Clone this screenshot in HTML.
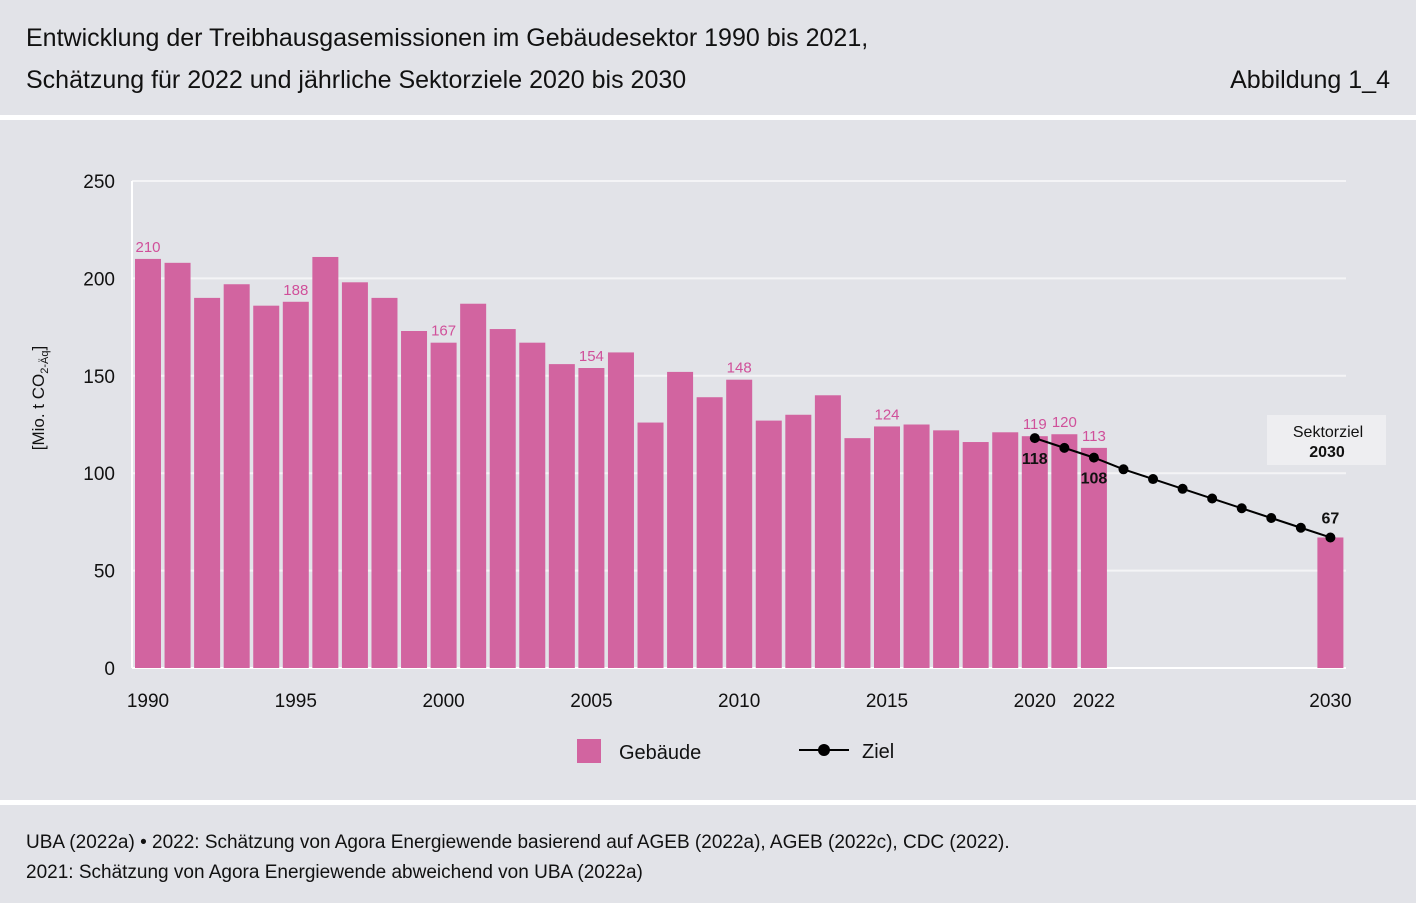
<!DOCTYPE html>
<html><head><meta charset="utf-8">
<style>
body{margin:0;width:1416px;height:903px;background:#e2e3e8;font-family:"Liberation Sans",sans-serif;overflow:hidden;position:relative}
.t{position:absolute;color:#111;font-size:25px}
</style></head><body>
<div class="t" style="left:26px;top:24px">Entwicklung der Treibhausgasemissionen im Gebäudesektor 1990 bis 2021,</div>
<div class="t" style="left:26px;top:66px">Schätzung für 2022 und jährliche Sektorziele 2020 bis 2030</div>
<div class="t" style="right:26px;top:66px">Abbildung 1_4</div>
<div style="position:absolute;left:0;top:115px;width:1416px;height:5px;background:#fff"></div>
<div style="position:absolute;left:0;top:800px;width:1416px;height:5px;background:#fff"></div>
<div class="t" style="left:26px;top:828px;font-size:19px;line-height:30px">UBA (2022a) • 2022: Schätzung von Agora Energiewende basierend auf AGEB (2022a), AGEB (2022c), CDC (2022).<br>2021: Schätzung von Agora Energiewende abweichend von UBA (2022a)</div>
<svg id="chart" width="1416" height="903" style="position:absolute;left:0;top:0">
<g id="g"></g>
</svg>
<script>
const years=[1990,1991,1992,1993,1994,1995,1996,1997,1998,1999,2000,2001,2002,2003,2004,2005,2006,2007,2008,2009,2010,2011,2012,2013,2014,2015,2016,2017,2018,2019,2020,2021,2022,2030];
const values=[210,208,190,197,186,188,211,198,190,173,167,187,174,167,156,154,162,126,152,139,148,127,130,140,118,124,125,122,116,121,119,120,113,67];
const labeledYears=[1990,1995,2000,2005,2010,2015,2020,2021,2022];
const zielYears=[2020,2021,2022,2023,2024,2025,2026,2027,2028,2029,2030];
const zielValues=[118,113,108,102,97,92,87,82,77,72,67];
const yTicks=[0,50,100,150,200,250];
const xTicks=[1990,1995,2000,2005,2010,2015,2020,2022,2030];
const NS="http://www.w3.org/2000/svg";
const g=document.getElementById('g');
const X=y=>148+(y-1990)*29.56;
const Y=v=>668-v*1.948;
function mk(t,a,txt){const e=document.createElementNS(NS,t);for(const k in a)e.setAttribute(k,a[k]);if(txt!==undefined)e.textContent=txt;g.appendChild(e);return e;}
yTicks.forEach(v=>{
 if(v>0){const l=mk('line',{x1:132,x2:1346,y1:Y(v),y2:Y(v),stroke:'#f4f4f6','stroke-width':2});
 
 }
 const t=mk('text',{x:115,y:Y(v)+7,'text-anchor':'end','font-size':19,fill:'#111'},v);
 
 
});
const ax=mk('line',{x1:132,x2:132,y1:181,y2:668,stroke:'#fff','stroke-width':2});


const bx=mk('line',{x1:132,x2:1346,y1:668,y2:668,stroke:'#fff','stroke-width':2});


years.forEach((yr,i)=>{
 const b=mk('rect',{x:X(yr)-13,y:Y(values[i]),width:26,height:668-Y(values[i]),fill:'#d264a0'});
 
 
 if(labeledYears.includes(yr)){
  const t=mk('text',{x:X(yr),y:Y(values[i])-7,'text-anchor':'middle','font-size':15,fill:'#d0509a'},values[i]);
  
  
 }
});
xTicks.forEach(yr=>{
 const t=mk('text',{x:X(yr),y:707,'text-anchor':'middle','font-size':19,fill:'#111'},yr);
 
 
});
const pl=mk('polyline',{points:zielYears.map((y,i)=>X(y)+','+Y(zielValues[i])).join(' '),fill:'none',stroke:'#000','stroke-width':2});


zielYears.forEach((y,i)=>{
 const c=mk('circle',{cx:X(y),cy:Y(zielValues[i]),r:5,fill:'#000'});
 
 
});
[[0,20],[2,20],[10,-14]].forEach(([i,dy])=>{
 const t=mk('text',{x:X(zielYears[i]),y:Y(zielValues[i])+dy+(dy>0?6:0),'text-anchor':'middle','font-size':16,'font-weight':'bold',fill:'#111'},zielValues[i]);
 
 
});
const yt=mk('text',{transform:'translate(44,398) rotate(-90)','text-anchor':'middle','font-size':17,fill:'#111'},'');
yt.innerHTML='[Mio. t CO<tspan font-size="11" dy="4">2-Äq</tspan><tspan dy="-4">]</tspan>';


const sb=mk('rect',{x:1267,y:415,width:119,height:50,fill:'#eeeef1'});


const s1=mk('text',{x:1328,y:437,'text-anchor':'middle','font-size':16,fill:'#111'},'Sektorziel');


const s2=mk('text',{x:1327,y:457,'text-anchor':'middle','font-size':16,'font-weight':'bold',fill:'#111'},'2030');


const lr=mk('rect',{x:577,y:739,width:24,height:24,fill:'#d264a0'});


const lt=mk('text',{x:619,y:759,'font-size':20,fill:'#111'},'Gebäude');


const ll=mk('line',{x1:799,x2:849,y1:750,y2:750,stroke:'#000','stroke-width':2});


const lc=mk('circle',{cx:824,cy:750,r:6,fill:'#000'});


const lz=mk('text',{x:862,y:758,'font-size':20,fill:'#111'},'Ziel');


</script>
</body></html>
